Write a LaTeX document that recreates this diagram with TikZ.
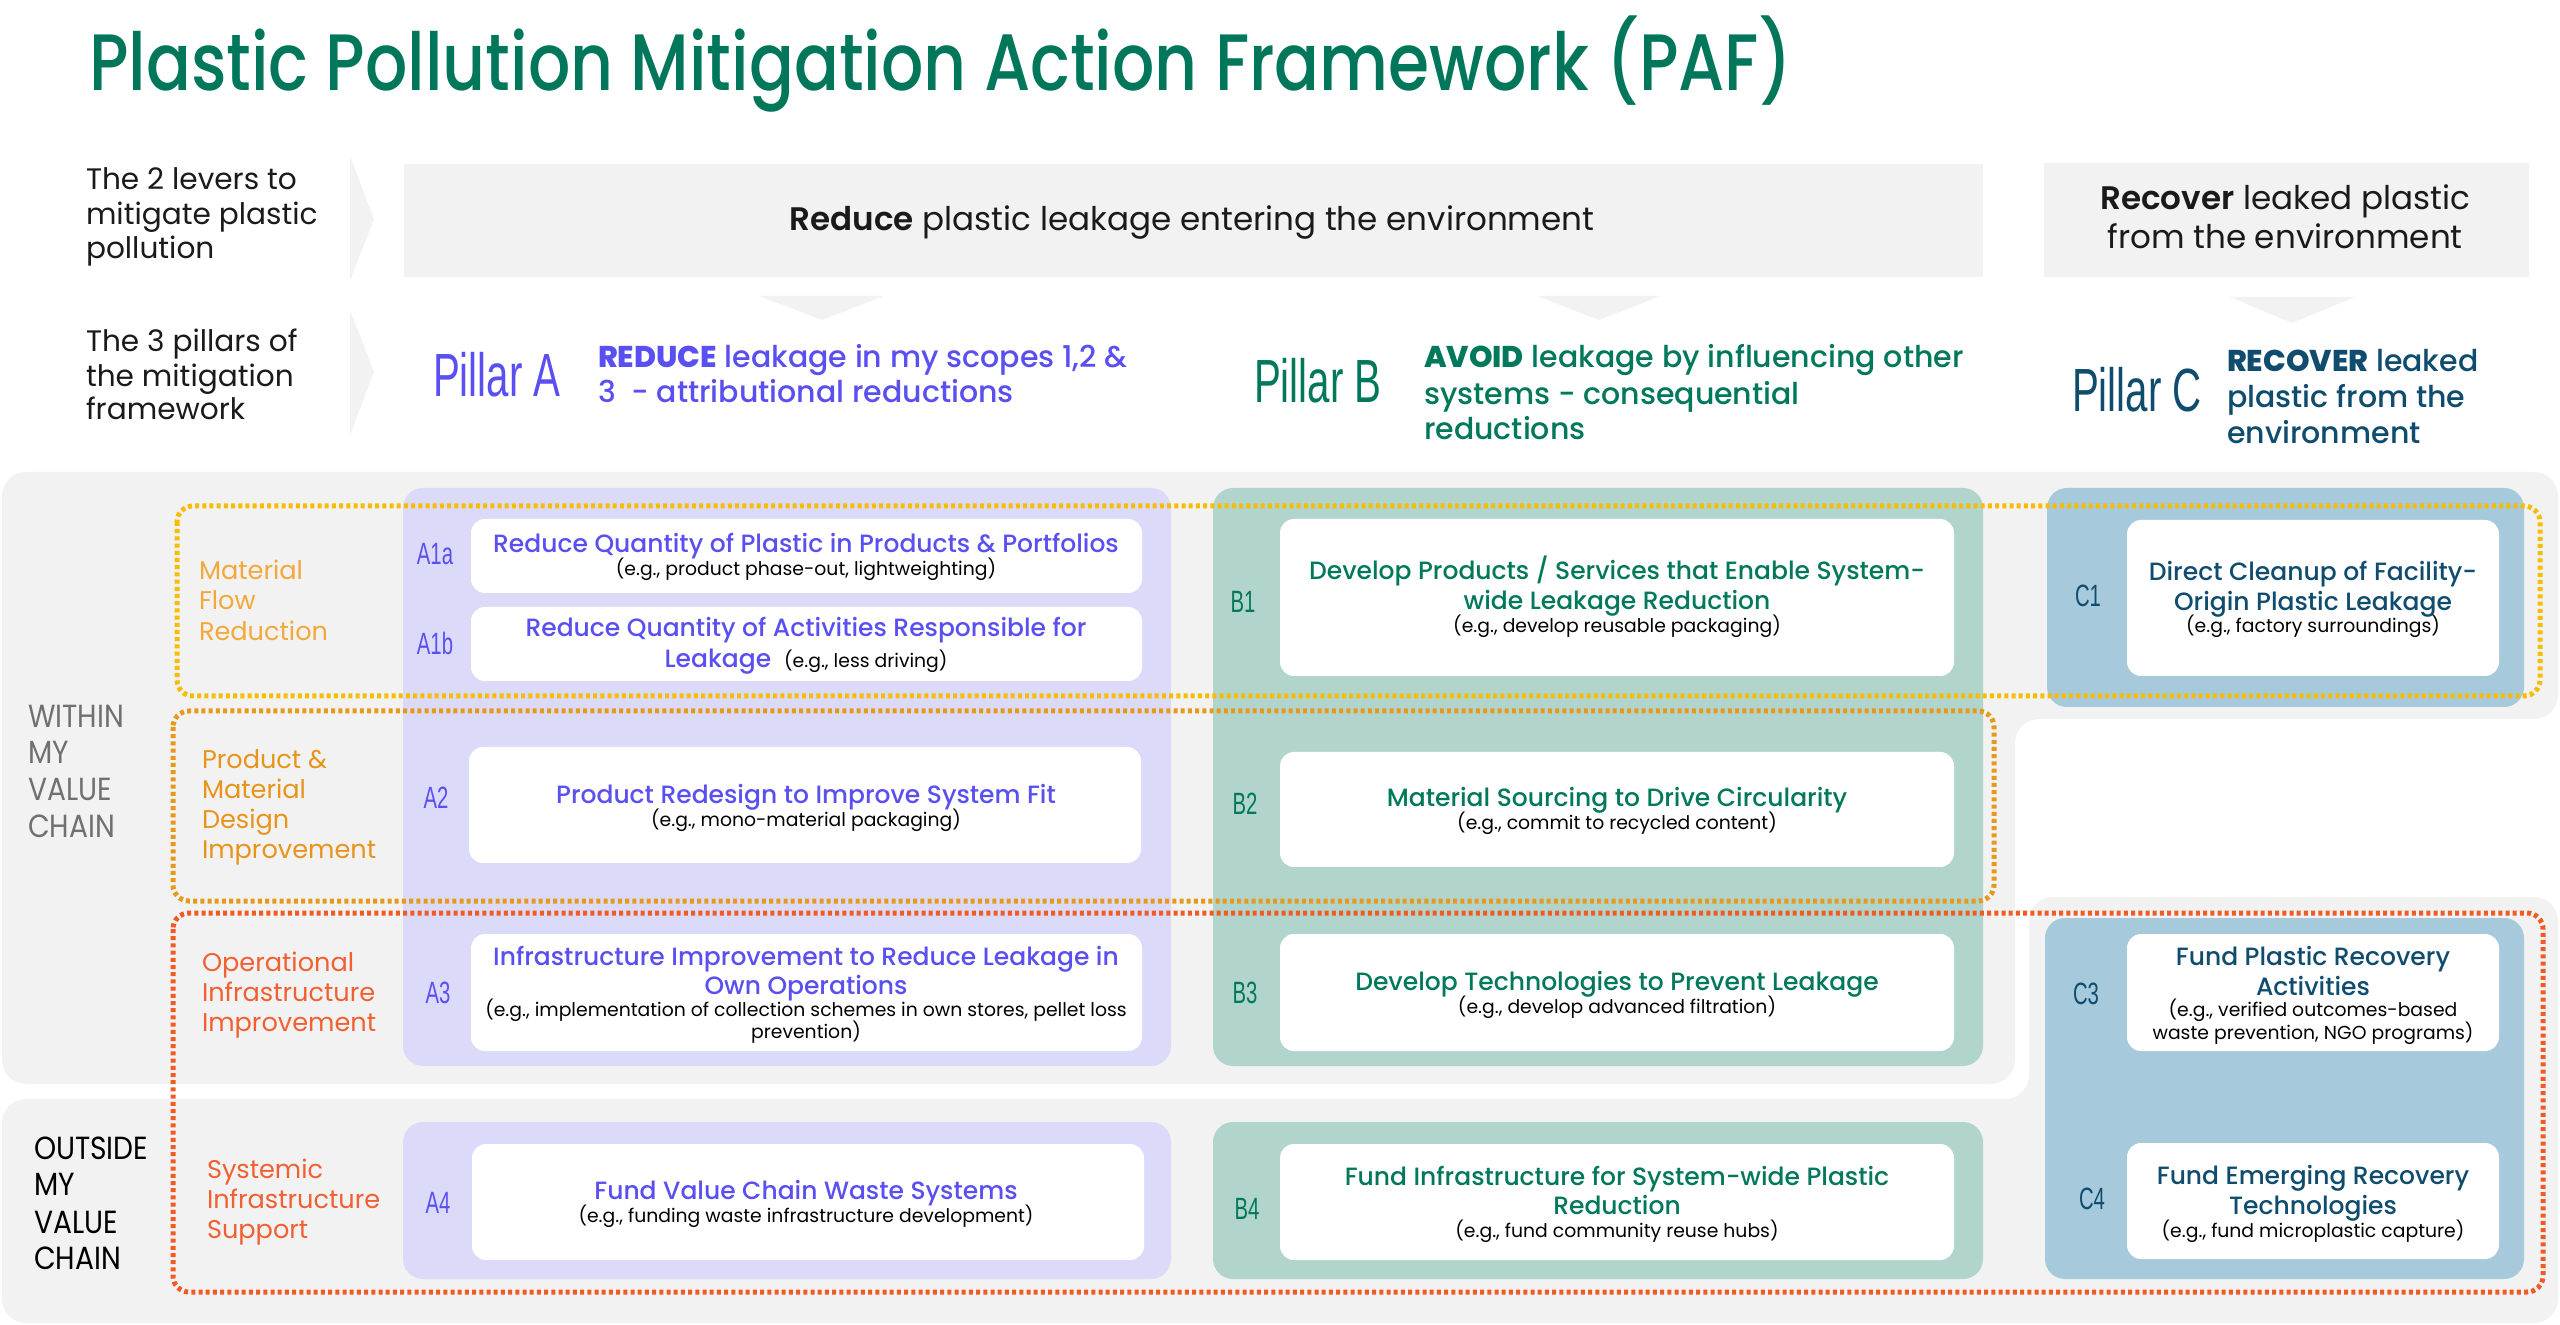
\documentclass[tikz,border=0pt]{standalone}
\usepackage{fontspec}
\setmainfont{Poppins}
\IfFontExistsTF{Poppins Medium}{\newfontfamily\titlefont{Poppins Medium}[FakeStretch=0.83]\newfontfamily\medfont{Poppins Medium}}{\newfontfamily\titlefont{Poppins}[FakeStretch=0.83]\newfontfamily\medfont{Poppins}}
\IfFontExistsTF{Poppins SemiBold}{\newfontfamily\semifont{Poppins SemiBold}}{\let\semifont\bfseries}
\IfFontExistsTF{Poppins ExtraBold}{\newfontfamily\heavyfont{Poppins ExtraBold}}{\let\heavyfont\bfseries}
\newfontfamily\zonefont{Poppins}[FakeStretch=0.88]
\newfontfamily\condfont{Liberation Sans}[FakeStretch=0.66]
\definecolor{titlegreen}{HTML}{00775A}
\definecolor{purpleT}{HTML}{5A4FF0}
\definecolor{greenT}{HTML}{00785B}
\definecolor{blueT}{HTML}{0F4C6E}
\definecolor{lav}{HTML}{DCDAF9}
\definecolor{tealF}{HTML}{B1D5CD}
\definecolor{blueF}{HTML}{A6C9DB}
\definecolor{bggray}{HTML}{F2F2F2}
\definecolor{yellowD}{HTML}{F9BC00}
\definecolor{yellowL}{HTML}{F2A83A}
\definecolor{goldD}{HTML}{E6991A}
\definecolor{goldL}{HTML}{E8941A}
\definecolor{redD}{HTML}{F25A24}
\definecolor{redL}{HTML}{F06030}
\definecolor{zonegray}{HTML}{707070}
\definecolor{textblack}{HTML}{1A1A1A}
\begin{document}
\begin{tikzpicture}[x=0.5pt,y=-0.5pt,
  every node/.style={inner sep=0pt, outer sep=0pt},
  colbox/.style={rounded corners=10pt},
  wbox/.style={fill=white, rounded corners=7pt},
  dotline/.style={line width=2.5pt, dash pattern=on 2pt off 1.6pt, rounded corners=8pt},
  ttl/.style={font=\titlefont\fontsize{40}{48}\selectfont, text=titlegreen, anchor=base west},
  hdr/.style={font=\fontsize{14.8}{18}\selectfont, text=textblack, anchor=base west},
  lever/.style={font=\fontsize{16.3}{20}\selectfont, text=textblack, anchor=base},
  pil/.style={font=\condfont\fontsize{30.5}{34}\selectfont, anchor=base west},
  piltxt/.style={font=\medfont\fontsize{15}{18}\selectfont, anchor=base west},
  zone/.style={font=\zonefont\fontsize{16}{19}\selectfont, anchor=base west},
  rowl/.style={font=\fontsize{12.8}{15}\selectfont, anchor=base west},
  bt/.style={font=\medfont\fontsize{12.5}{15}\selectfont, anchor=base},
  ex/.style={font=\fontsize{9.4}{11}\selectfont, text=black, anchor=base},
  lab/.style={font=\condfont\fontsize{15.4}{18}\selectfont, anchor=base}
]
\useasboundingbox (0,0) rectangle (2560,1325);
% background zones
\fill[bggray, rounded corners=12pt] (2,472) -- (2558,472) -- (2558,719) -- (2015,719) -- (2015,1084) -- (2,1084) -- cycle;
\fill[bggray, rounded corners=12pt] (2,1099) -- (2029,1099) -- (2029,897) -- (2558,897) -- (2558,1323) -- (2,1323) -- cycle;
% header boxes and arrows
\fill[bggray] (404,164) rectangle (1983,277);
\fill[bggray] (2044,163) rectangle (2529,277);
\fill[bggray] (350,156) -- (374,219) -- (350,281) -- cycle;
\fill[bggray] (350,310) -- (374,372) -- (350,435) -- cycle;
\fill[bggray] (759,296) -- (884,296) -- (822,320) -- cycle;
\fill[bggray] (1537,296) -- (1661,296) -- (1599,320) -- cycle;
\fill[bggray] (2230,297) -- (2355,297) -- (2292,323) -- cycle;
% pillar columns
\fill[lav, colbox] (403,488) rectangle (1171,1066);
\fill[lav, colbox] (403,1122) rectangle (1171,1279);
\fill[tealF, colbox] (1213,488) rectangle (1983,1066);
\fill[tealF, colbox] (1213,1122) rectangle (1983,1279);
\fill[blueF, colbox] (2047,488) rectangle (2524,707);
\fill[blueF, colbox] (2045,918) rectangle (2524,1279);
% dotted groupings
\draw[dotline, yellowD] (177,506) rectangle (2540,696);
\draw[dotline, goldD] (173,711) rectangle (1994,901);
\draw[dotline, redD] (173,913) rectangle (2543,1292);
% white boxes
\fill[wbox] (471,519) rectangle (1142,593);
\fill[wbox] (471,607) rectangle (1142,681);
\fill[wbox] (469,747) rectangle (1141,863);
\fill[wbox] (471,934) rectangle (1142,1051);
\fill[wbox] (472,1144) rectangle (1144,1260);
\fill[wbox] (1280,519) rectangle (1954,676);
\fill[wbox] (1280,752) rectangle (1954,867);
\fill[wbox] (1280,934) rectangle (1954,1051);
\fill[wbox] (1280,1144) rectangle (1954,1260);
\fill[wbox] (2127,520) rectangle (2499,676);
\fill[wbox] (2127,934) rectangle (2499,1051);
\fill[wbox] (2127,1143) rectangle (2499,1259);
% title
\node[ttl] (title) at (89,91) {Plastic Pollution Mitigation Action Framework (PAF)};
% header texts
\node[hdr] (lv1) at (86,190) {The 2 levers to};
\node[hdr] (lv2) at (86,225) {mitigate plastic};
\node[hdr] (lv3) at (86,259) {pollution};
\node[hdr] (pl1) at (86,352) {The 3 pillars of};
\node[hdr] (pl2) at (86,387) {the mitigation};
\node[hdr] (pl3) at (86,420) {framework};
\node[lever] (redlev) at (1192,231) {{\semifont Reduce} plastic leakage entering the environment};
\node[lever] (reclev1) at (2285,210) {{\semifont Recover} leaked plastic};
\node[lever] (reclev2) at (2285,249) {from the environment};
% pillars
\node[pil, text=purpleT] (pA) at (433,397) {Pillar A};
\node[piltxt, text=purpleT] (pAt1) at (598,368) {{\heavyfont REDUCE} leakage in my scopes 1,2 \&};
\node[piltxt, text=purpleT] (pAt2) at (598,403) {3~ - attributional reductions};
\node[pil, text=greenT] (pB) at (1254,403) {Pillar B};
\node[piltxt, text=greenT] (pBt1) at (1424,368) {{\heavyfont AVOID} leakage by influencing other};
\node[piltxt, text=greenT] (pBt2) at (1424,405) {systems - consequential};
\node[piltxt, text=greenT] (pBt3) at (1424,440) {reductions};
\node[pil, text=blueT] (pC) at (2072,412) {Pillar C};
\node[piltxt, text=blueT] (pCt1) at (2227,372) {{\heavyfont RECOVER} leaked};
\node[piltxt, text=blueT] (pCt2) at (2227,408) {plastic from the};
\node[piltxt, text=blueT] (pCt3) at (2227,444) {environment};
% zones
\node[zone, text=zonegray] (w1) at (28,728) {WITHIN};
\node[zone, text=zonegray] (w2) at (28,764) {MY};
\node[zone, text=zonegray] (w3) at (28,801) {VALUE};
\node[zone, text=zonegray] (w4) at (28,838) {CHAIN};
\node[zone, text=black] (o1) at (34,1159) {OUTSIDE};
\node[zone, text=black] (o2) at (34,1195) {MY};
\node[zone, text=black] (o3) at (34,1233) {VALUE};
\node[zone, text=black] (o4) at (34,1269) {CHAIN};
% row labels
\node[rowl, text=yellowL] (r1a) at (199,580) {Material};
\node[rowl, text=yellowL] (r1b) at (199,610) {Flow};
\node[rowl, text=yellowL] (r1c) at (199,641) {Reduction};
\node[rowl, text=goldL] (r2a) at (202,769) {Product \&};
\node[rowl, text=goldL] (r2b) at (202,799) {Material};
\node[rowl, text=goldL] (r2c) at (202,829) {Design};
\node[rowl, text=goldL] (r2d) at (202,859) {Improvement};
\node[rowl, text=redL] (r3a) at (202,971) {Operational};
\node[rowl, text=redL] (r3b) at (202,1001) {Infrastructure};
\node[rowl, text=redL] (r3c) at (202,1031) {Improvement};
\node[rowl, text=redL] (r4a) at (207,1178) {Systemic};
\node[rowl, text=redL] (r4b) at (207,1208) {Infrastructure};
\node[rowl, text=redL] (r4c) at (207,1238) {Support};
% labels
\node[lab, text=purpleT] (lA1a) at (435,565) {A1a};
\node[lab, text=purpleT] (lA1b) at (435,655) {A1b};
\node[lab, text=purpleT] (lA2) at (436,809) {A2};
\node[lab, text=purpleT] (lA3) at (438,1003) {A3};
\node[lab, text=purpleT] (lA4) at (438,1213) {A4};
\node[lab, text=greenT] (lB1) at (1243,613) {B1};
\node[lab, text=greenT] (lB2) at (1245,815) {B2};
\node[lab, text=greenT] (lB3) at (1245,1003) {B3};
\node[lab, text=greenT] (lB4) at (1247,1219) {B4};
\node[lab, text=blueT] (lC1) at (2088,607) {C1};
\node[lab, text=blueT] (lC3) at (2086,1004) {C3};
\node[lab, text=blueT] (lC4) at (2092,1209) {C4};
% A boxes
\node[bt, text=purpleT] (a1at) at (806,553) {Reduce Quantity of Plastic in Products \& Portfolios};
\node[ex] (a1ae) at (806,576) {(e.g., product phase-out, lightweighting)};
\node[bt, text=purpleT] (a1bt) at (806,637) {Reduce Quantity of Activities Responsible for};
\node[bt, text=purpleT] (a1bt2) at (806,668) {Leakage~~{\normalfont\fontsize{9.4}{11}\selectfont\color{black}(e.g., less driving)}};
\node[bt, text=purpleT] (a2t) at (806,804) {Product Redesign to Improve System Fit};
\node[ex] (a2e) at (806,827) {(e.g., mono-material packaging)};
\node[bt, text=purpleT] (a3t1) at (806,965) {Infrastructure Improvement to Reduce Leakage in};
\node[bt, text=purpleT] (a3t2) at (806,994) {Own Operations};
\node[ex] (a3e1) at (806,1016) {(e.g., implementation of collection schemes in own stores, pellet loss};
\node[ex] (a3e2) at (806,1038) {prevention)};
\node[bt, text=purpleT] (a4t) at (806,1199) {Fund Value Chain Waste Systems};
\node[ex] (a4e) at (806,1222) {(e.g., funding waste infrastructure development)};
% B boxes
\node[bt, text=greenT] (b1t1) at (1617,580) {Develop Products / Services that Enable System-};
\node[bt, text=greenT] (b1t2) at (1617,610) {wide Leakage Reduction};
\node[ex] (b1e) at (1617,633) {(e.g., develop reusable packaging)};
\node[bt, text=greenT] (b2t) at (1617,807) {Material Sourcing to Drive Circularity};
\node[ex] (b2e) at (1617,830) {(e.g., commit to recycled content)};
\node[bt, text=greenT] (b3t) at (1617,990) {Develop Technologies to Prevent Leakage};
\node[ex] (b3e) at (1617,1013) {(e.g., develop advanced filtration)};
\node[bt, text=greenT] (b4t1) at (1617,1185) {Fund Infrastructure for System-wide Plastic};
\node[bt, text=greenT] (b4t2) at (1617,1214) {Reduction};
\node[ex] (b4e) at (1617,1237) {(e.g., fund community reuse hubs)};
% C boxes
\node[bt, text=blueT] (c1t1) at (2313,581) {Direct Cleanup of Facility-};
\node[bt, text=blueT] (c1t2) at (2313,611) {Origin Plastic Leakage};
\node[ex] (c1e) at (2313,633) {(e.g., factory surroundings)};
\node[bt, text=blueT] (c3t1) at (2313,965) {Fund Plastic Recovery};
\node[bt, text=blueT] (c3t2) at (2313,995) {Activities};
\node[ex] (c3e1) at (2313,1016) {(e.g., verified outcomes-based};
\node[ex] (c3e2) at (2313,1039) {waste prevention, NGO programs)};
\node[bt, text=blueT] (c4t1) at (2313,1184) {Fund Emerging Recovery};
\node[bt, text=blueT] (c4t2) at (2313,1214) {Technologies};
\node[ex] (c4e) at (2313,1237) {(e.g., fund microplastic capture)};
\end{tikzpicture}
\end{document}
